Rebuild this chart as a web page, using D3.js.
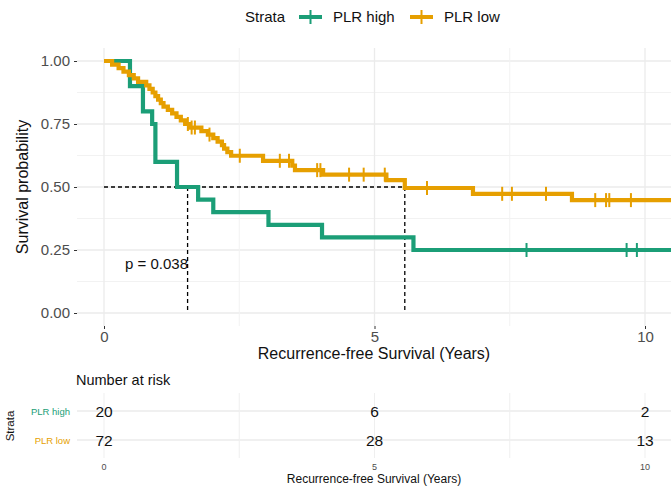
<!DOCTYPE html>
<html>
<head>
<meta charset="utf-8">
<script src="https://cdn.jsdelivr.net/npm/d3@7"></script>
<style>
  body { margin: 0; background: #fff; }
  text { font-family: "Liberation Sans", Arial, sans-serif; }
</style>
</head>
<body>
<svg id="chart" width="671" height="487"></svg>
<script>
// strata
var strata = ["PLR high", "PLR low"];
var colors = ["#1b9e77", "#e69f00"];

// step points (time in years, survival after the step)
var highTimes = [0, 0.48, 0.72, 0.89, 0.95, 1.35, 1.74, 2.02, 3.04, 4.03, 5.72, 10.8];
var highSurv  = [1, 0.90, 0.80, 0.75, 0.60, 0.50, 0.45, 0.40, 0.35, 0.30, 0.25, 0.25];
var highCensor = [7.81, 9.66, 9.85];

var lowTimes = [0, 0.15, 0.27, 0.36, 0.46, 0.55, 0.63, 0.78, 0.84, 0.90, 0.95, 1.00, 1.05, 1.10, 1.18,
  1.26, 1.34, 1.42, 1.50, 1.58, 1.80, 1.92, 2.02, 2.10, 2.18, 2.22, 2.28, 2.35, 2.94, 3.48, 3.53,
  4.05, 5.22, 5.56, 6.82, 8.65, 10.8];
var lowSurv = [1, 0.986, 0.972, 0.958, 0.944, 0.931, 0.917, 0.903, 0.889, 0.875, 0.861, 0.847, 0.833, 0.819, 0.806,
  0.792, 0.778, 0.764, 0.750, 0.736, 0.722, 0.708, 0.694, 0.680, 0.666, 0.652, 0.638, 0.624, 0.604, 0.585, 0.567,
  0.549, 0.527, 0.496, 0.473, 0.448, 0.448];
var lowCensor = [1.55, 1.62, 1.68, 1.95, 2.51, 3.25, 3.42, 3.94, 4.00, 4.53, 4.80, 5.19, 5.97, 7.36, 7.54, 8.17,
  9.08, 9.28, 9.34, 9.74];

var medians = [1.545, 5.56];
var pText = "p = 0.038";

// risk table
var riskTimes = [0, 5, 10];
var riskHigh = [20, 6, 2];
var riskLow = [72, 28, 13];

var xTicks = [0, 5, 10];
var yTicks = [0, 0.25, 0.5, 0.75, 1];

var svg = d3.select("#chart");
var panel = {left: 77, right: 671, top: 48, bottom: 326};

var x = d3.scaleLinear().domain([0, 10]).range([104, 645]);
var y = d3.scaleLinear().domain([0, 1]).range([313, 61]);

svg.append("defs").append("clipPath").attr("id", "clip")
  .append("rect").attr("x", panel.left).attr("y", panel.top)
  .attr("width", panel.right - panel.left).attr("height", panel.bottom - panel.top);

// grid
var grid = svg.append("g");
var yMinor = [0.125, 0.375, 0.625, 0.875];
grid.selectAll(".ymin").data(yMinor).enter().append("line")
  .attr("x1", panel.left).attr("x2", panel.right)
  .attr("y1", d => y(d)).attr("y2", d => y(d))
  .attr("stroke", "#f2f2f2").attr("stroke-width", 1);
grid.selectAll(".ymaj").data(yTicks).enter().append("line")
  .attr("x1", panel.left).attr("x2", panel.right)
  .attr("y1", d => y(d)).attr("y2", d => y(d))
  .attr("stroke", "#ebebeb").attr("stroke-width", 1.3);
grid.selectAll(".xmin").data([2.5, 7.5]).enter().append("line")
  .attr("x1", d => x(d)).attr("x2", d => x(d))
  .attr("y1", panel.top).attr("y2", panel.bottom)
  .attr("stroke", "#f2f2f2").attr("stroke-width", 1);
grid.selectAll(".xmaj").data(xTicks).enter().append("line")
  .attr("x1", d => x(d)).attr("x2", d => x(d))
  .attr("y1", panel.top).attr("y2", panel.bottom)
  .attr("stroke", "#ebebeb").attr("stroke-width", 1.3);

// axes
var yAxis = svg.append("g").attr("transform", "translate(" + panel.left + ",0)")
  .call(d3.axisLeft(y).tickValues(yTicks).tickFormat(d3.format(".2f")).tickSize(3).tickPadding(4));
var xAxis = svg.append("g").attr("transform", "translate(0," + panel.bottom + ")")
  .call(d3.axisBottom(x).tickValues(xTicks).tickSize(3).tickPadding(2));
[yAxis, xAxis].forEach(function(a) {
  a.select(".domain").remove();
  a.selectAll(".tick line").attr("stroke", "#333");
  a.selectAll("text").attr("fill", "#4d4d4d").style("font-size", "15px")
    .style("font-family", "'Liberation Sans', Arial, sans-serif");
});

// median lines
var dash = svg.append("g").attr("stroke", "#000").attr("stroke-width", 1.3)
  .attr("stroke-dasharray", "4,3");
dash.append("line").attr("x1", x(0)).attr("x2", x(d3.max(medians)))
  .attr("y1", y(0.5)).attr("y2", y(0.5));
dash.selectAll(".v").data(medians).enter().append("line")
  .attr("x1", d => x(d)).attr("x2", d => x(d))
  .attr("y1", y(0.5)).attr("y2", y(0));

// curves
var curves = svg.append("g").attr("clip-path", "url(#clip)");
var line = d3.line().x(d => x(d[0])).y(d => y(d[1])).curve(d3.curveStepAfter);
var series = [
  {times: highTimes, surv: highSurv, censor: highCensor, color: colors[0]},
  {times: lowTimes, surv: lowSurv, censor: lowCensor, color: colors[1]}
];
function survAt(s, t) {
  var v = s.surv[0];
  for (var i = 0; i < s.times.length; i++) if (s.times[i] <= t) v = s.surv[i];
  return v;
}
series.forEach(function(s) {
  var pts = s.times.map((t, i) => [t, s.surv[i]]);
  curves.append("path").datum(pts).attr("d", line)
    .attr("fill", "none").attr("stroke", s.color).attr("stroke-width", 4.2);
  curves.selectAll(null).data(s.censor).enter().append("line")
    .attr("x1", d => x(d)).attr("x2", d => x(d))
    .attr("y1", d => y(survAt(s, d)) - 7).attr("y2", d => y(survAt(s, d)) + 7)
    .attr("stroke", s.color).attr("stroke-width", 2);
});

svg.append("text").attr("x", 125).attr("y", 269).text(pText)
  .style("font-size", "15px").attr("fill", "#111");

// titles
svg.append("text").attr("transform", "translate(28,187) rotate(-90)")
  .attr("text-anchor", "middle").style("font-size", "16px").attr("fill", "#111")
  .text("Survival probability");
svg.append("text").attr("x", 374).attr("y", 359).attr("text-anchor", "middle")
  .style("font-size", "16px").attr("fill", "#111").text("Recurrence-free Survival (Years)");

// legend
var leg = svg.append("g");
leg.append("text").attr("x", 245).attr("y", 22).style("font-size", "15px").attr("fill", "#111").text("Strata");
var legX = [299, 410];
strata.forEach(function(name, i) {
  var g = leg.append("g").attr("transform", "translate(" + legX[i] + ",17)");
  g.append("line").attr("x1", 0).attr("x2", 23).attr("stroke", colors[i]).attr("stroke-width", 4);
  g.append("line").attr("x1", 11.5).attr("x2", 11.5).attr("y1", -7).attr("y2", 7)
    .attr("stroke", colors[i]).attr("stroke-width", 2);
  g.append("text").attr("x", 34).attr("y", 5).style("font-size", "15px").attr("fill", "#111").text(name);
});

// risk table
var rp = {top: 393, bottom: 458};
var yr = d3.scalePoint().domain(strata).range([411, 440]);
svg.append("text").attr("x", 76).attr("y", 385).style("font-size", "14.5px").attr("fill", "#111")
  .text("Number at risk");
var rg = svg.append("g");
rg.selectAll(".rh").data(strata).enter().append("line")
  .attr("x1", panel.left).attr("x2", panel.right)
  .attr("y1", d => yr(d)).attr("y2", d => yr(d))
  .attr("stroke", "#ebebeb").attr("stroke-width", 1.3);
rg.selectAll(".rv").data([0, 2.5, 5, 7.5, 10]).enter().append("line")
  .attr("x1", d => x(d)).attr("x2", d => x(d))
  .attr("y1", rp.top).attr("y2", rp.bottom)
  .attr("stroke", "#efefef").attr("stroke-width", 1);
var riskRows = [riskHigh, riskLow];
strata.forEach(function(name, i) {
  svg.append("text").attr("x", 70).attr("y", yr(name) + 3.5).attr("text-anchor", "end")
    .style("font-size", "9.5px").attr("fill", colors[i]).text(name);
  svg.selectAll(null).data(riskTimes).enter().append("text")
    .attr("x", d => x(d)).attr("y", yr(name) + 6).attr("text-anchor", "middle")
    .style("font-size", "15.5px").attr("fill", "#111")
    .text((d, j) => riskRows[i][j]);
});
svg.append("text").attr("transform", "translate(14,426) rotate(-90)")
  .attr("text-anchor", "middle").style("font-size", "11.5px").attr("fill", "#111").text("Strata");
svg.selectAll(".rt").data(xTicks).enter().append("text")
  .attr("x", d => x(d)).attr("y", 470).attr("text-anchor", "middle")
  .style("font-size", "9px").attr("fill", "#4d4d4d").text(d => d);
svg.append("text").attr("x", 374).attr("y", 483).attr("text-anchor", "middle")
  .style("font-size", "12px").attr("fill", "#111").text("Recurrence-free Survival (Years)");
</script>
</body>
</html>
